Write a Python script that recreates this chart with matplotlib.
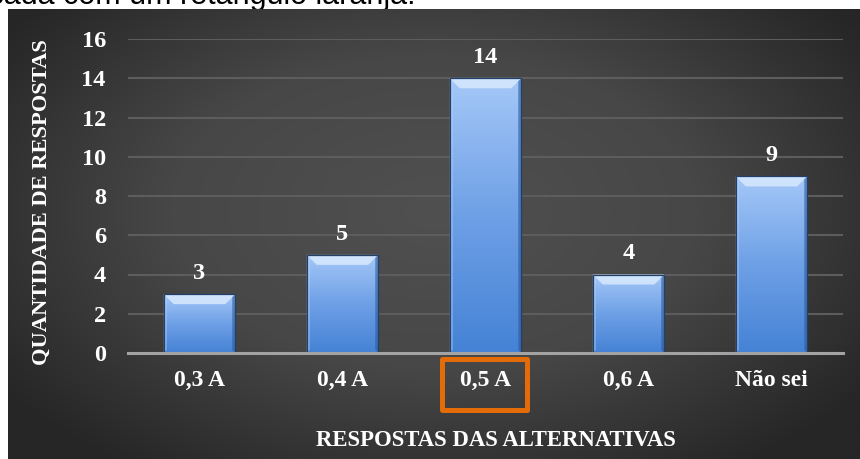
import numpy as np
import matplotlib.pyplot as plt
from matplotlib.patches import Polygon, Rectangle
from matplotlib.colors import LinearSegmentedColormap

categories = ["0,3 A", "0,4 A", "0,5 A", "0,6 A", "Não sei"]
counts = [3, 5, 14, 4, 9]
yticks = [0, 2, 4, 6, 8, 10, 12, 14, 16]
highlight = "0,5 A"
caption = "destacada com um retângulo laranja."
xlabel = "RESPOSTAS DAS ALTERNATIVAS"
ylabel = "QUANTIDADE DE RESPOSTAS"

W, H = 860, 459
SERIF = ["Liberation Serif", "DejaVu Serif"]
fig = plt.figure(figsize=(W / 100, H / 100), dpi=100)
fig.patch.set_facecolor("white")

# dark panel with a soft radial glow
bg = fig.add_axes([8 / W, 0, 1 - 8 / W, (H - 9) / H], zorder=0)
yy, xx = np.mgrid[0:1:300j, 0:1:600j]
r = np.sqrt(((xx - 0.5) / 0.62) ** 2 + ((yy - 0.55) / 0.7) ** 2)
cmap_bg = LinearSegmentedColormap.from_list("bg", ["#505050", "#474747", "#262626"])
bg.imshow(np.clip(r, 0, 1), cmap=cmap_bg, vmin=0, vmax=1, aspect="auto",
          extent=[0, 1, 0, 1], origin="lower", interpolation="bicubic")
bg.axis("off")

# caption line of the surrounding text
fig.text(415 / W, 1 - 4 / H, caption, ha="right", va="baseline",
         fontsize=22, family="Liberation Sans", color="black", zorder=-1)

ax = fig.add_axes([128 / W, 106 / H, 715 / W, 314 / H], zorder=1)
ax.patch.set_alpha(0)
x = np.arange(len(categories))
bw = 0.5
ax.set_xlim(-0.5, len(categories) - 0.5)
ax.set_ylim(0, 16)

bars = ax.bar(x, counts, width=bw, color="none", edgecolor="#22406c",
              linewidth=0.9, zorder=3)

grad = np.linspace(0, 1, 256).reshape(-1, 1)
cmap_bar = LinearSegmentedColormap.from_list("bar", ["#4582d5", "#6ea0e6", "#a5c8f8"])
px_x = 1 / 143.0     # data units per pixel (x)
px_y = 16 / 314.0    # data units per pixel (y)
for xi, v, b in zip(x, counts, bars):
    x0, x1 = xi - bw / 2, xi + bw / 2
    im = ax.imshow(grad, cmap=cmap_bar, aspect="auto", origin="lower",
                   extent=[x0, x1, 0, v], zorder=2, interpolation="bicubic")
    im.set_clip_path(b)
    bh, bi = 10 * px_y, 10 * px_x
    # top bevel
    ax.add_patch(Polygon([[x0, v], [x1, v], [x1 - bi, v - bh], [x0 + bi, v - bh]],
                         closed=True, facecolor="#d6e7fd", edgecolor="none",
                         alpha=0.9, zorder=2.5))
    sw = 3 * px_x
    # side highlights / shade
    ax.add_patch(Polygon([[x0, v], [x0 + sw, v - 3 * px_y], [x0 + sw, 3 * px_y], [x0, 0]],
                         closed=True, facecolor="#b9d5fb", edgecolor="none",
                         alpha=0.5, zorder=2.5))
    ax.add_patch(Polygon([[x1, v], [x1 - sw, v - 3 * px_y], [x1 - sw, 3 * px_y], [x1, 0]],
                         closed=True, facecolor="#2d5a9a", edgecolor="none",
                         alpha=0.6, zorder=2.5))
    ax.annotate(str(v), (xi, v), xytext=(0, 11), textcoords="offset points",
                ha="center", va="baseline", color="white", fontsize=17.5,
                fontweight="bold", family=SERIF, zorder=4)

ax.set_yticks(yticks)
ax.set_xticks(x)
ax.set_xticklabels(categories)
ax.grid(axis="y", color="#5d5d5d", linewidth=1.5, zorder=1)
ax.set_axisbelow(True)
for s in ["left", "right", "top"]:
    ax.spines[s].set_visible(False)
ax.spines["bottom"].set_color("#a3a3a3")
ax.spines["bottom"].set_linewidth(2.2)
ax.spines["bottom"].set_zorder(3.5)
ax.tick_params(axis="y", length=0, pad=16, labelcolor="white", labelsize=17.5)
ax.tick_params(axis="x", length=0, pad=12, labelcolor="white", labelsize=17)
for lab in ax.get_xticklabels() + ax.get_yticklabels():
    lab.set_fontweight("bold")
    lab.set_family(SERIF)

# highlight frame around the selected answer
hi = categories.index(highlight)
ax.add_patch(Rectangle((hi - 0.305, -2.89), 0.595, 2.56, fill=False,
                       edgecolor="#e36c09", linewidth=3.6, joinstyle="round",
                       clip_on=False, zorder=5))

fig.text(496 / W, 1 - 440 / H, xlabel, ha="center", va="center", color="white",
         fontsize=16.4, fontweight="bold", family=SERIF)
fig.text(42 / W, 1 - 202 / H, ylabel, ha="center", va="center", rotation=90,
         color="white", fontsize=16.2, fontweight="bold", family=SERIF)

fig.savefig("out.png", dpi=100, facecolor=fig.get_facecolor())
